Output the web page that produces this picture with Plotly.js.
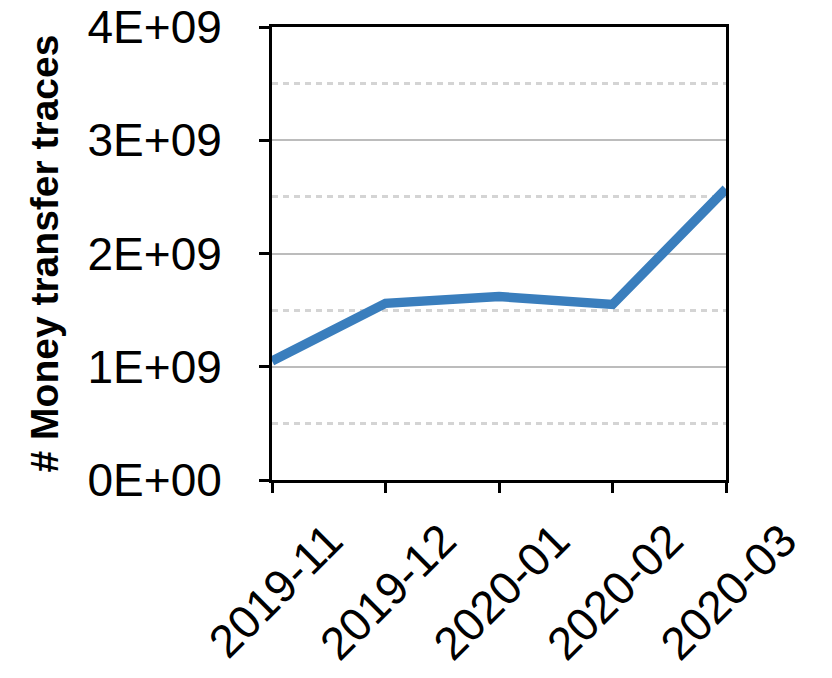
<!DOCTYPE html>
<html>
<head>
<meta charset="utf-8">
<script src="https://cdn.plot.ly/plotly-3.0.1.min.js"></script>
<style>html,body{margin:0;padding:0;background:#fff;}#chart{width:832px;height:678px;}</style>
</head>
<body>
<div id="chart"></div>
<script>
const months = ['2019-11', '2019-12', '2020-01', '2020-02', '2020-03'];
const traces = [1.05e9, 1.56e9, 1.62e9, 1.55e9, 2.57e9];
const yTickVals = [0, 1e9, 2e9, 3e9, 4e9];
const yMinorVals = [0.5e9, 1.5e9, 2.5e9, 3.5e9];
const yTickText = ['0E+00', '1E+09', '2E+09', '3E+09', '4E+09'];
const yTitle = '# Money transfer traces';

const FONT = 'Liberation Sans, Arial, Helvetica, sans-serif';

const data = [{
  x: months,
  y: traces,
  type: 'scatter',
  mode: 'lines',
  line: {color: 'rgb(58,126,189)', width: 9.5},
  hoverinfo: 'skip',
  showlegend: false
}];

const layout = {
  width: 832,
  height: 678,
  margin: {l: 272, r: 106, t: 27, b: 198},
  paper_bgcolor: '#ffffff',
  plot_bgcolor: '#ffffff',
  showlegend: false,
  font: {family: FONT, color: '#000000', size: 46},
  xaxis: {
    type: 'category',
    range: [0, 4],
    tickvals: months,
    ticktext: months,
    tickangle: -45,
    ticks: 'outside',
    ticklen: 10,
    tickwidth: 3,
    tickcolor: '#000',
    showline: true,
    linecolor: '#000',
    linewidth: 3,
    mirror: true,
    showgrid: false,
    zeroline: false,
    tickfont: {family: FONT, size: 46, color: '#000'},
    ticklabelstandoff: 2,
    ticklabelshift: 57
  },
  yaxis: {
    range: [0, 4e9],
    tickvals: yTickVals,
    ticktext: yTickText,
    ticks: 'outside',
    ticklen: 10,
    tickwidth: 3,
    tickcolor: '#000',
    showline: true,
    linecolor: '#000',
    linewidth: 3,
    mirror: true,
    showgrid: true,
    gridcolor: '#bcbcbc',
    gridwidth: 2,
    zeroline: false,
    tickfont: {family: FONT, size: 46, color: '#000'},
    ticklabelstandoff: 28,
    minor: {
      tickvals: yMinorVals,
      showgrid: true,
      gridcolor: '#d4d4d4',
      gridwidth: 3,
      griddash: '6px,5px',
      ticks: ''
    },
    title: {
      text: yTitle,
      font: {family: FONT, size: 39, color: '#000', weight: 'bold'},
      standoff: 17
    }
  },
  xaxis2: {
    overlaying: 'x',
    anchor: 'y2',
    range: [0, 4],
    tickvals: [0, 1, 2, 3, 4],
    ticks: 'inside',
    ticklen: 10,
    tickwidth: 3,
    tickcolor: '#000',
    showticklabels: false,
    showgrid: false,
    zeroline: false,
    showline: false
  },
  yaxis2: {
    overlaying: 'y',
    anchor: 'x2',
    range: [0, 4e9],
    tickvals: yTickVals,
    ticks: 'inside',
    ticklen: 10,
    tickwidth: 3,
    tickcolor: '#000',
    showticklabels: false,
    showgrid: false,
    zeroline: false,
    showline: false
  }
};

Plotly.newPlot('chart', data, layout, {staticPlot: true, displayModeBar: false});
</script>
</body>
</html>
